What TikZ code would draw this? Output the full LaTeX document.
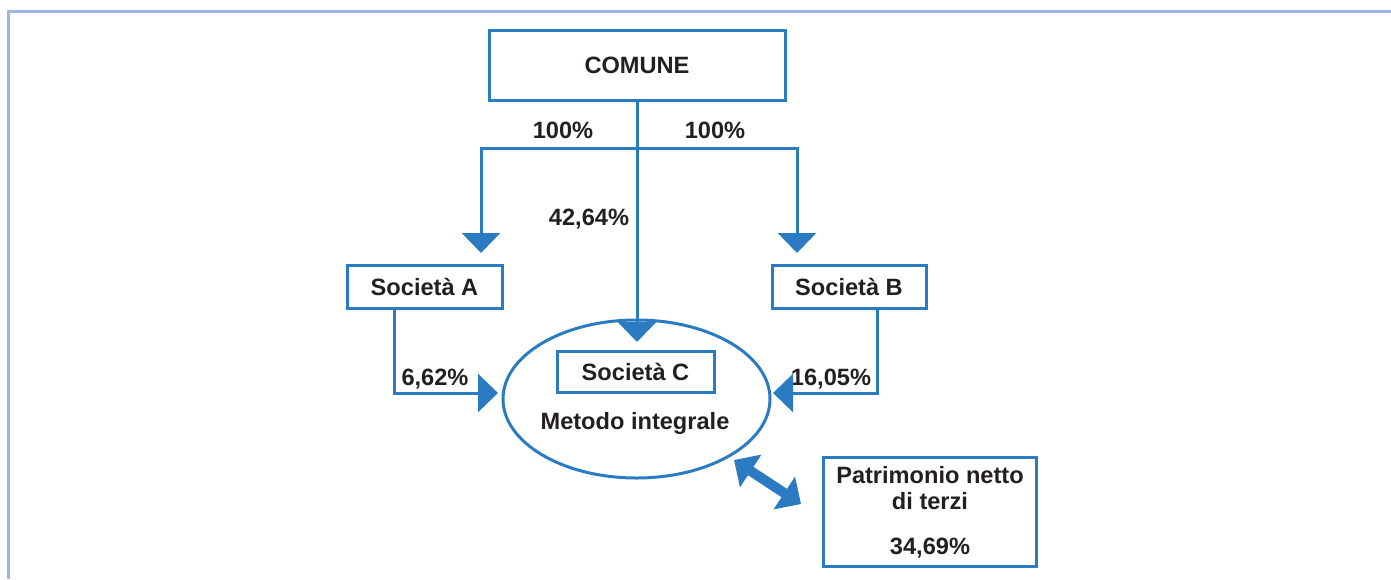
\documentclass[tikz,border=0pt]{standalone}
\usepackage{fontspec}
\setmainfont{Liberation Sans}
\usetikzlibrary{arrows.meta,shapes.geometric}
\definecolor{bl}{HTML}{2B7BC3}
\definecolor{frame}{HTML}{9DB7E0}
\definecolor{txt}{HTML}{231F20}
\begin{document}
\begin{tikzpicture}[x=1pt,y=-1pt,
  box/.style={draw=bl,line width=3pt,inner sep=0pt,fill=white},
  lbl/.style={text=txt,font=\fontsize{23.6}{27}\selectfont\bfseries,inner sep=0pt},
  ln/.style={draw=bl,line width=3pt},
  tip/.style={-{Triangle[width=38pt,length=20pt]}},
  dbl/.style={draw=bl,line width=10pt,{Triangle[width=38pt,length=20pt]}-{Triangle[width=38pt,length=20pt]}}]
\useasboundingbox (0,0) rectangle (1391,579);
\draw[frame,line width=3pt] (8,579) -- (8,11) -- (1391,11);
% nodes
\node[box,minimum width=296pt,minimum height=70pt] (com) at (637,65) {};
\node[lbl] at (com) {COMUNE};
\node[box,minimum width=155pt,minimum height=43pt] (sa) at (424.5,286.5) {};
\node[lbl] at (sa) {Società A};
\node[box,minimum width=154pt,minimum height=43pt] (sb) at (849,286.5) {};
\node[lbl] at (sb) {Società B};
\node[draw=bl,line width=3pt,ellipse,minimum width=267pt,minimum height=158pt,inner sep=0pt] (ell) at (636.5,399) {};
\node[box,minimum width=157pt,minimum height=41pt] (sc) at (635.5,371.5) {};
\node[lbl] at (sc) {Società C};
\node[lbl] (mi) at (635,423) {Metodo integrale};
\node[box,minimum width=213pt,minimum height=109pt] (pn) at (929.5,511.5) {};
\node[lbl,align=center] (pnt) at (930,488.5) {Patrimonio netto\\[-1pt]di terzi};
\node[lbl] (pnp) at (930,548) {34,69\%};
% labels
\node[lbl] at (563,130) {100\%};
\node[lbl] at (715,130) {100\%};
\node[lbl] at (589,219) {42,64\%};
\node[lbl] at (435,379) {6,62\%};
\node[lbl] at (831,379) {16,05\%};
% coordinates
\coordinate (j) at (637,148);
\coordinate (tA) at (481,253);
\coordinate (tB) at (797,253);
\coordinate (tC) at (637,342);
\coordinate (a1) at (394,308);
\coordinate (tA2) at (498,393);
\coordinate (b1) at (877,308);
\coordinate (tB2) at (773,393);
\coordinate (d1) at (734,460);
\coordinate (d2) at (801,504);
% connectors
\draw[ln,tip] (com.south) -- (tC);
\draw[ln,tip] (j) -| (tA);
\draw[ln,tip] (j) -| (tB);
\draw[ln,tip] (a1) |- (tA2);
\draw[ln,tip] (b1) |- (tB2);
\draw[dbl] (d1) -- (d2);
\end{tikzpicture}
\end{document}
